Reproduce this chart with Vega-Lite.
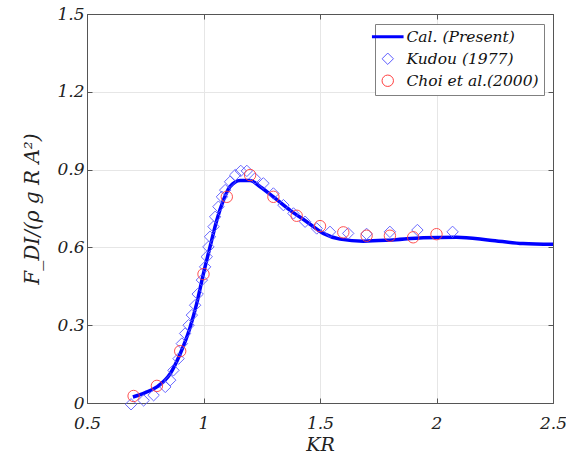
{
  "$schema": "https://vega.github.io/schema/vega-lite/v6.json",
  "autosize": "none",
  "width": 466,
  "height": 389,
  "padding": {"left": 87, "top": 14, "right": 13, "bottom": 56},
  "background": "white",
  "config": {
    "view": {"stroke": "#555555", "strokeWidth": 1},
    "axis": {
      "labelFont": "DejaVu Serif", "labelFontStyle": "italic", "labelFontSize": 17, "labelColor": "#222222",
      "titleFont": "DejaVu Serif", "titleFontStyle": "italic", "titleFontWeight": "normal", "titleColor": "#222222",
      "domainColor": "#555555", "tickColor": "#555555", "tickSize": -5, "gridColor": "#e6e6e6"
    }
  },
  "data": {"values": [
    {"KR": 0.697, "F": 0.023, "series": "Cal. (Present)"},
    {"KR": 0.75, "F": 0.040, "series": "Cal. (Present)"},
    {"KR": 0.80, "F": 0.062, "series": "Cal. (Present)"},
    {"KR": 0.857, "F": 0.113, "series": "Cal. (Present)"},
    {"KR": 0.90, "F": 0.19, "series": "Cal. (Present)"},
    {"KR": 0.943, "F": 0.293, "series": "Cal. (Present)"},
    {"KR": 0.971, "F": 0.384, "series": "Cal. (Present)"},
    {"KR": 1.0, "F": 0.50, "series": "Cal. (Present)"},
    {"KR": 1.028, "F": 0.602, "series": "Cal. (Present)"},
    {"KR": 1.057, "F": 0.705, "series": "Cal. (Present)"},
    {"KR": 1.086, "F": 0.783, "series": "Cal. (Present)"},
    {"KR": 1.114, "F": 0.834, "series": "Cal. (Present)"},
    {"KR": 1.157, "F": 0.858, "series": "Cal. (Present)"},
    {"KR": 1.20, "F": 0.858, "series": "Cal. (Present)"},
    {"KR": 1.243, "F": 0.834, "series": "Cal. (Present)"},
    {"KR": 1.30, "F": 0.795, "series": "Cal. (Present)"},
    {"KR": 1.371, "F": 0.744, "series": "Cal. (Present)"},
    {"KR": 1.443, "F": 0.699, "series": "Cal. (Present)"},
    {"KR": 1.514, "F": 0.654, "series": "Cal. (Present)"},
    {"KR": 1.586, "F": 0.632, "series": "Cal. (Present)"},
    {"KR": 1.686, "F": 0.624, "series": "Cal. (Present)"},
    {"KR": 1.80, "F": 0.628, "series": "Cal. (Present)"},
    {"KR": 1.943, "F": 0.637, "series": "Cal. (Present)"},
    {"KR": 2.086, "F": 0.639, "series": "Cal. (Present)"},
    {"KR": 2.229, "F": 0.628, "series": "Cal. (Present)"},
    {"KR": 2.371, "F": 0.615, "series": "Cal. (Present)"},
    {"KR": 2.5, "F": 0.612, "series": "Cal. (Present)"},

    {"KR": 0.689, "F": -0.005, "series": "Kudou (1977)"},
    {"KR": 0.743, "F": 0.01, "series": "Kudou (1977)"},
    {"KR": 0.786, "F": 0.03, "series": "Kudou (1977)"},
    {"KR": 0.836, "F": 0.062, "series": "Kudou (1977)"},
    {"KR": 0.857, "F": 0.088, "series": "Kudou (1977)"},
    {"KR": 0.871, "F": 0.126, "series": "Kudou (1977)"},
    {"KR": 0.893, "F": 0.171, "series": "Kudou (1977)"},
    {"KR": 0.907, "F": 0.229, "series": "Kudou (1977)"},
    {"KR": 0.921, "F": 0.268, "series": "Kudou (1977)"},
    {"KR": 0.936, "F": 0.30, "series": "Kudou (1977)"},
    {"KR": 0.95, "F": 0.339, "series": "Kudou (1977)"},
    {"KR": 0.964, "F": 0.377, "series": "Kudou (1977)"},
    {"KR": 0.975, "F": 0.42, "series": "Kudou (1977)"},
    {"KR": 0.993, "F": 0.474, "series": "Kudou (1977)"},
    {"KR": 1.007, "F": 0.525, "series": "Kudou (1977)"},
    {"KR": 1.014, "F": 0.564, "series": "Kudou (1977)"},
    {"KR": 1.021, "F": 0.602, "series": "Kudou (1977)"},
    {"KR": 1.028, "F": 0.641, "series": "Kudou (1977)"},
    {"KR": 1.043, "F": 0.68, "series": "Kudou (1977)"},
    {"KR": 1.05, "F": 0.718, "series": "Kudou (1977)"},
    {"KR": 1.064, "F": 0.757, "series": "Kudou (1977)"},
    {"KR": 1.079, "F": 0.795, "series": "Kudou (1977)"},
    {"KR": 1.093, "F": 0.821, "series": "Kudou (1977)"},
    {"KR": 1.114, "F": 0.853, "series": "Kudou (1977)"},
    {"KR": 1.136, "F": 0.879, "series": "Kudou (1977)"},
    {"KR": 1.160, "F": 0.895, "series": "Kudou (1977)"},
    {"KR": 1.186, "F": 0.895, "series": "Kudou (1977)"},
    {"KR": 1.221, "F": 0.866, "series": "Kudou (1977)"},
    {"KR": 1.257, "F": 0.847, "series": "Kudou (1977)"},
    {"KR": 1.30, "F": 0.808, "series": "Kudou (1977)"},
    {"KR": 1.343, "F": 0.763, "series": "Kudou (1977)"},
    {"KR": 1.386, "F": 0.731, "series": "Kudou (1977)"},
    {"KR": 1.436, "F": 0.699, "series": "Kudou (1977)"},
    {"KR": 1.486, "F": 0.673, "series": "Kudou (1977)"},
    {"KR": 1.543, "F": 0.66, "series": "Kudou (1977)"},
    {"KR": 1.621, "F": 0.654, "series": "Kudou (1977)"},
    {"KR": 1.70, "F": 0.652, "series": "Kudou (1977)"},
    {"KR": 1.80, "F": 0.66, "series": "Kudou (1977)"},
    {"KR": 1.918, "F": 0.667, "series": "Kudou (1977)"},
    {"KR": 2.069, "F": 0.66, "series": "Kudou (1977)"},

    {"KR": 0.70, "F": 0.027, "series": "Choi et al.(2000)"},
    {"KR": 0.80, "F": 0.066, "series": "Choi et al.(2000)"},
    {"KR": 0.90, "F": 0.20, "series": "Choi et al.(2000)"},
    {"KR": 1.00, "F": 0.497, "series": "Choi et al.(2000)"},
    {"KR": 1.10, "F": 0.795, "series": "Choi et al.(2000)"},
    {"KR": 1.20, "F": 0.879, "series": "Choi et al.(2000)"},
    {"KR": 1.30, "F": 0.795, "series": "Choi et al.(2000)"},
    {"KR": 1.40, "F": 0.722, "series": "Choi et al.(2000)"},
    {"KR": 1.50, "F": 0.682, "series": "Choi et al.(2000)"},
    {"KR": 1.60, "F": 0.658, "series": "Choi et al.(2000)"},
    {"KR": 1.70, "F": 0.645, "series": "Choi et al.(2000)"},
    {"KR": 1.80, "F": 0.645, "series": "Choi et al.(2000)"},
    {"KR": 1.90, "F": 0.639, "series": "Choi et al.(2000)"},
    {"KR": 2.00, "F": 0.651, "series": "Choi et al.(2000)"}
  ]},
  "resolve": {"axis": {"x": "independent", "y": "independent"}},
  "layer": [
    {
      "transform": [{"filter": "datum.series === 'Cal. (Present)'"}],
      "mark": {"type": "line", "strokeWidth": 3.5, "interpolate": "monotone", "clip": true},
      "encoding": {
        "x": {"field": "KR", "type": "quantitative", "scale": {"domain": [0.5, 2.5], "nice": false, "zero": false},
              "axis": {"title": "KR", "titleFontSize": 19, "titlePadding": 4, "values": [0.5, 1, 1.5, 2, 2.5], "format": "~g", "labelPadding": 17, "grid": true, "labelFlush": false}},
        "y": {"field": "F", "type": "quantitative", "scale": {"domain": [0, 1.5], "nice": false, "zero": false},
              "axis": {"title": "F_DI/(ρ g R A²)", "titleFontSize": 20, "titlePadding": 14, "values": [0, 0.3, 0.6, 0.9, 1.2, 1.5], "format": "~g", "labelPadding": 8, "grid": true, "labelFlush": false}},
        "color": {"field": "series", "type": "nominal",
                  "scale": {"domain": ["Cal. (Present)", "Kudou (1977)", "Choi et al.(2000)"], "range": ["#0000ff", "#5a5aff", "#ff4040"]},
                  "legend": {"title": null, "orient": "none", "legendX": 288, "legendY": 10,
                             "fillColor": "white", "strokeColor": "#808080", "padding": 5,
                             "labelFont": "DejaVu Serif", "labelFontStyle": "italic", "labelFontSize": 15.5, "labelColor": "#111111",
                             "symbolSize": 130, "labelOffset": 11, "rowPadding": 5,
                             "encode": {"symbols": {"update": {
                               "fill": {"value": "transparent"},
                               "strokeWidth": {"signal": "datum.value === 'Cal. (Present)' ? 3 : 1"},
                               "size": {"signal": "datum.value === 'Cal. (Present)' ? 1000 : 130"}
                             }}}}}
      }
    },
    {
      "transform": [{"filter": "datum.series !== 'Cal. (Present)'"}],
      "mark": {"type": "point", "filled": false, "strokeWidth": 1, "opacity": 0.9},
      "encoding": {
        "x": {"field": "KR", "type": "quantitative", "scale": {"domain": [0.5, 2.5], "nice": false, "zero": false},
              "axis": {"orient": "top", "title": null, "labels": false, "grid": false, "values": [0.5, 1, 1.5, 2, 2.5]}},
        "y": {"field": "F", "type": "quantitative", "scale": {"domain": [0, 1.5], "nice": false, "zero": false},
              "axis": {"orient": "right", "title": null, "labels": false, "grid": false, "values": [0, 0.3, 0.6, 0.9, 1.2, 1.5]}},
        "color": {"field": "series", "type": "nominal"},
        "shape": {"field": "series", "type": "nominal",
                  "scale": {"domain": ["Cal. (Present)", "Kudou (1977)", "Choi et al.(2000)"], "range": ["stroke", "diamond", "circle"]},
                  "legend": {"title": null}},
        "size": {"value": 130}
      }
    }
  ]
}
